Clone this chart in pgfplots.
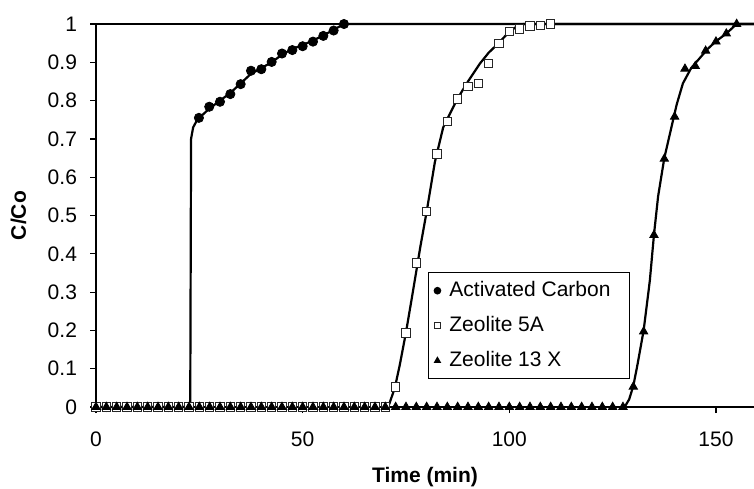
\documentclass[border=0pt]{standalone}
\usepackage{fontspec}
\setmainfont{Liberation Sans}
\usepackage{pgfplots}
\pgfplotsset{compat=1.18}

\begin{document}
\begin{tikzpicture}[font=\fontsize{10.5}{12}\selectfont]
\begin{axis}[
  scale only axis,
  width=329pt, height=191.5pt,
  xmin=0, xmax=159.2,
  ymin=0, ymax=1,
  clip=false,
  axis x line*=bottom, axis y line*=left,
  axis line style={line width=0.9pt},
  xtick={0,50,100,150},
  ytick={0,0.1,0.2,0.3,0.4,0.5,0.6,0.7,0.8,0.9,1},
  extra y ticks={1}, extra y tick labels={},
  extra y tick style={grid=major, major grid style={black, line width=1pt}},
  tick align=outside,
  major tick length=3pt,
  tick style={black, line width=0.6pt},
  /pgf/number format/assume math mode=true,
  yticklabel style={/pgf/number format/fixed, /pgf/number format/precision=1, xshift=-3pt},
  xticklabel style={yshift=-6pt},
  xlabel={\bfseries Time (min)},
  ylabel={\bfseries C/Co},
  xlabel style={at={(axis description cs:0.5,-0.183)}, anchor=center},
  ylabel style={at={(axis description cs:-0.118,0.5)}, anchor=center},
  legend style={at={(axis cs:80.3,0.352)}, anchor=north west, draw=black, line width=0.6pt,
    inner sep=2.2pt, row sep=4pt,
    nodes={text height=7.5pt, text depth=2pt, inner sep=2pt, line width=0.6pt}},
  legend cell align=left,
  legend image code/.code={\path[draw=none, fill=none] (0cm,0cm) rectangle (0.22cm,0cm);
    \draw[mark size=1.6pt] plot coordinates {(0.08cm,0cm)};},
]
% model curves
\addplot[black, line width=1.1pt, forget plot] coordinates {
  (0,0) (22.8,0) (23,0.70) (23.5,0.73) (24.5,0.75) (27.5,0.78) (30,0.80) (32.5,0.82)
  (35,0.845) (37.5,0.87) (40,0.885) (42.5,0.90) (45,0.92) (47.5,0.935) (50,0.945)
  (52.5,0.957) (55,0.97) (57.5,0.985) (60,1) (159.2,1)
};
\addplot[black, line width=1.1pt, forget plot] coordinates {
  (70.7,0) (72.3,0.05) (73.5,0.11) (75,0.195) (76.5,0.29) (78.5,0.42) (80,0.51)
  (82,0.64) (84,0.73) (87.4,0.804) (90,0.85) (92.9,0.897) (95,0.925) (97.3,0.949)
  (100,0.98) (102,0.995) (103.4,1) (159.2,1)
};
\addplot[black, line width=1.1pt, forget plot] coordinates {
  (127.9,0) (129,0.02) (130,0.055) (131,0.11) (132.5,0.20) (134,0.33) (135,0.45)
  (136,0.55) (137.5,0.65) (139,0.72) (140.5,0.79) (142,0.845) (144,0.885)
  (146,0.91) (148,0.935) (150,0.955) (152.5,0.975) (155,1) (159.2,1)
};
% measured points
\addplot[only marks, mark=*, mark size=2.3pt, black] coordinates {
  (0,0) (2.5,0) (5,0) (7.5,0) (10,0) (12.5,0) (15,0) (17.5,0) (20,0) (22.5,0)
  (24.9,0.755) (27.4,0.784) (30,0.797) (32.5,0.817) (35,0.843) (37.5,0.878)
  (40,0.882) (42.5,0.901) (45,0.923) (47.5,0.932) (50,0.942) (52.5,0.954)
  (55,0.969) (57.5,0.983) (60,1.0)
};
\addplot[only marks, mark=square*, mark size=2.1pt, draw=black!85, fill=white] coordinates {
  (0,0) (2.5,0) (5,0) (7.5,0) (10,0) (12.5,0) (15,0) (17.5,0) (20,0) (22.5,0)
  (25,0) (27.5,0) (30,0) (32.5,0) (35,0) (37.5,0) (40,0) (42.5,0) (45,0) (47.5,0)
  (50,0) (52.5,0) (55,0) (57.5,0) (60,0) (62.5,0) (65,0) (67.5,0) (70,0)
  (72.5,0.052) (75,0.194) (77.5,0.376) (80,0.511) (82.5,0.661) (85,0.746)
  (87.5,0.804) (90,0.837) (92.5,0.845) (95,0.897) (97.5,0.949) (100,0.98)
  (102.5,0.987) (105,0.995) (107.5,0.997) (110,1.0)
};
\addplot[only marks, mark=triangle*, mark size=2.4pt, black] coordinates {
  (0,0) (2.5,0) (5,0) (7.5,0) (10,0) (12.5,0) (15,0) (17.5,0) (20,0) (22.5,0)
  (25,0) (27.5,0) (30,0) (32.5,0) (35,0) (37.5,0) (40,0) (42.5,0) (45,0) (47.5,0)
  (50,0) (52.5,0) (55,0) (57.5,0) (60,0) (62.5,0) (65,0) (67.5,0) (70,0) (72.5,0)
  (75,0) (77.5,0) (80,0) (82.5,0) (85,0) (87.5,0) (90,0) (92.5,0) (95,0) (97.5,0)
  (100,0) (102.5,0) (105,0) (107.5,0) (110,0) (112.5,0) (115,0) (117.5,0) (120,0)
  (122.5,0) (125,0) (127.5,0)
  (130,0.053) (132.5,0.197) (135,0.449) (137.5,0.648) (140,0.758) (142.5,0.883)
  (145,0.89) (147.5,0.93) (150,0.954) (152.5,0.975) (155,1.0)
};
\legend{Activated Carbon\rule{5.5pt}{0pt}, Zeolite 5A, Zeolite 13 X}
\coordinate (bl) at (rel axis cs:-0.1459,-0.2115);
\coordinate (tr) at (rel axis cs:1,1.0627);
\end{axis}
\pgfresetboundingbox
\path[use as bounding box] (bl) rectangle (tr);
\end{tikzpicture}
\end{document}
